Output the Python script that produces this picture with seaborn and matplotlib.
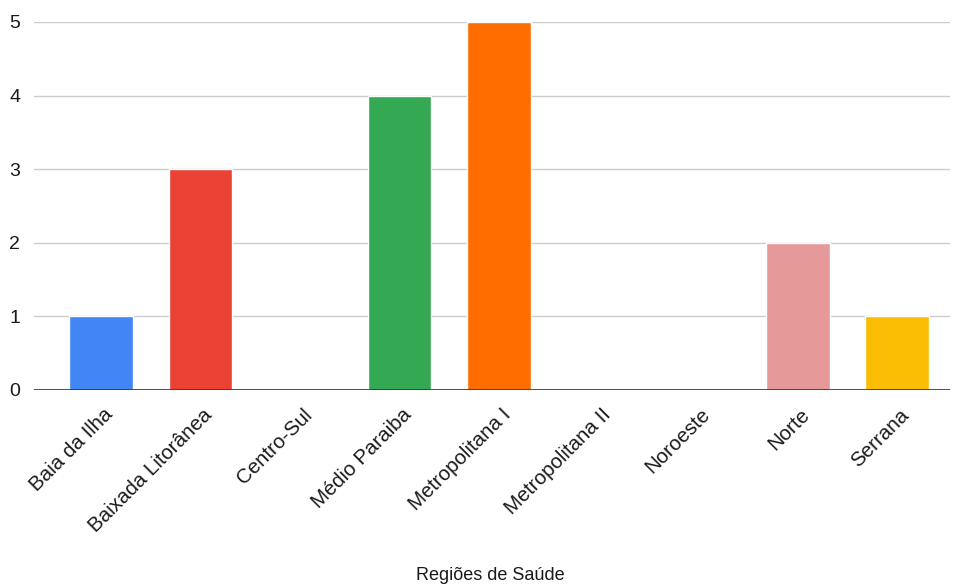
import matplotlib
matplotlib.use("Agg")
import matplotlib.pyplot as plt
import matplotlib.transforms as mtrans
import seaborn as sns
import pandas as pd

regioes = ["Baia da Ilha", "Baixada Litorânea", "Centro-Sul", "Médio Paraiba",
           "Metropolitana I", "Metropolitana II", "Noroeste", "Norte", "Serrana"]
valores = [1, 3, 0, 4, 5, 0, 0, 2, 1]
cores = ["#4285F4", "#EA4335", "#34A853", "#34A853", "#FF6D01",
         "#46BDC6", "#7BAAF7", "#E69999", "#FBBC04"]
y_ticks = [0, 1, 2, 3, 4, 5]

df = pd.DataFrame({"regiao": regioes, "valor": valores})

sns.set_theme(style="white")
plt.rcParams["font.family"] = ["Liberation Sans", "DejaVu Sans"]

fig = plt.figure(figsize=(9.57, 5.86), dpi=100)
ax = fig.add_axes([34 / 957, 1 - 390 / 586, (950 - 34) / 957, (390 - 22) / 586])

sns.barplot(data=df, x="regiao", y="valor", hue="regiao", palette=cores,
            legend=False, width=0.64, ax=ax, zorder=3, saturation=1)

ax.set_ylim(0, 5)
ax.set_xlim(-0.673, 8.53)
ax.set_yticks(y_ticks)
ax.yaxis.grid(True, color="#cccccc", linewidth=1, zorder=0)
ax.axhline(0, color="#333333", linewidth=1.2, zorder=4)
for s in ax.spines.values():
    s.set_visible(False)
ax.tick_params(axis="y", length=0, pad=10, labelsize=14, labelcolor="#1a1a1a")
ax.tick_params(axis="x", length=0, pad=15, labelsize=14.8, labelcolor="#1a1a1a")
shift = mtrans.ScaledTranslation(9 / 100, -1 / 100, fig.dpi_scale_trans)
for lbl in ax.get_xticklabels():
    lbl.set_rotation(45)
    lbl.set_ha("right")
    lbl.set_rotation_mode("anchor")
    lbl.set_va("center")
    lbl.set_transform(lbl.get_transform() + shift)
ax.set_ylabel("")
ax.set_xlabel("Regiões de Saúde", fontsize=13, color="#1a1a1a", va="center")
ax.xaxis.set_label_coords((490 - 34) / 916, -(575 - 390) / 368)

fig.savefig("out.png", dpi=100, facecolor="white")
